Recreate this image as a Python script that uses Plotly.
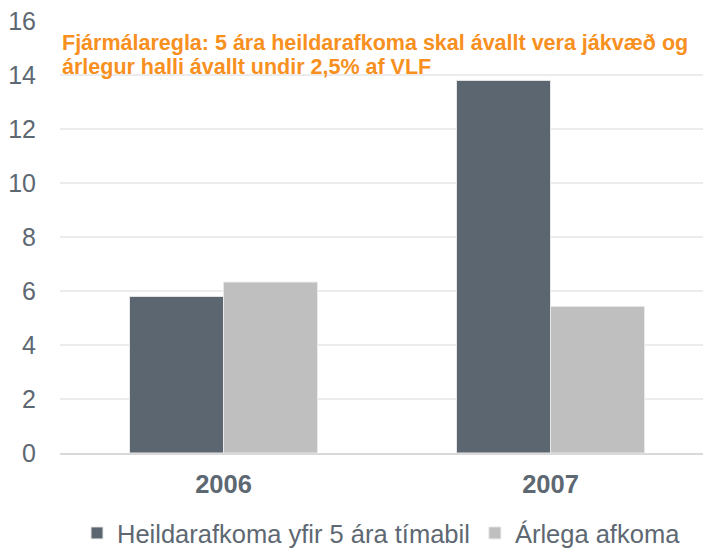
import plotly.graph_objects as go

categories = ["2006", "2007"]
heildar = [5.8, 13.8]
arleg = [6.33, 5.43]
series_names = ["Heildarafkoma yfir 5 ára tímabil", "Árlega afkoma"]
y_ticks = [0, 2, 4, 6, 8, 10, 12, 14, 16]
note_lines = ["Fjármálaregla: 5 ára heildarafkoma skal ávallt vera jákvæð og",
              "árlegur halli ávallt undir 2,5% af VLF"]

FONT = "Liberation Sans, Arial, sans-serif"
GRAY = "#5d6872"
ORANGE = "#f7901e"

fig = go.Figure()
fig.add_trace(go.Bar(x=categories, y=heildar, name=series_names[0],
                     marker=dict(color="#5b6670", line=dict(color="#e8e8e8", width=1))))
fig.add_trace(go.Bar(x=categories, y=arleg, name=series_names[1],
                     marker=dict(color="#bfbfbf", line=dict(color="#e8e8e8", width=1))))

fig.update_layout(
    width=711, height=551,
    margin=dict(l=52, r=5, t=13, b=106, autoexpand=False),
    paper_bgcolor="white", plot_bgcolor="white",
    barmode="group", bargap=0.425, bargroupgap=0,
    font=dict(family=FONT, color=GRAY, size=24),
    showlegend=True,
    legend=dict(orientation="h", x=0.026, xanchor="left", y=-0.186, yanchor="middle",
                font=dict(size=25.5, color=GRAY), traceorder="normal", itemwidth=30),
    xaxis=dict(showline=True, linecolor="#d9d9d9", linewidth=1.5, ticks="",
               tickfont=dict(size=25.5, color=GRAY, family=FONT), ticklabelstandoff=8),
    yaxis=dict(range=[0, 16], tickvals=y_ticks, showgrid=True, gridcolor="#ececec",
               gridwidth=1.5, zeroline=False, showline=False, ticklabeloverflow="allow",
               tickfont=dict(size=25, color=GRAY), ticklabelstandoff=23),
)
fig.update_xaxes(tickvals=categories, ticktext=["<b>%s</b>" % c for c in categories])
for yv, line in zip([15.17, 14.3], note_lines):
    fig.add_annotation(text="<b>" + line + "</b>", xref="paper", yref="y",
                       x=0.0, y=yv, xanchor="left", yanchor="middle", align="left",
                       showarrow=False, font=dict(size=21.5, color=ORANGE, family=FONT))

fig.write_html("out.html")
